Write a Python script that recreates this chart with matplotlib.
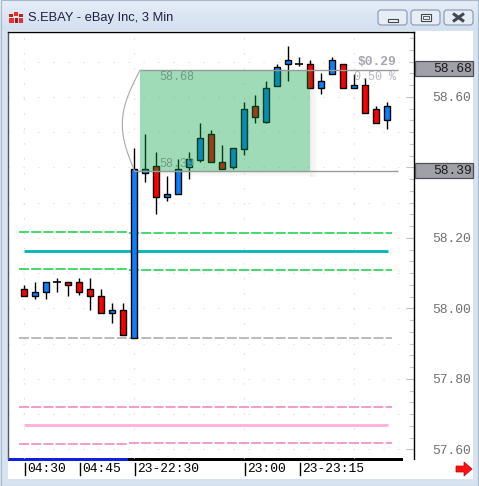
import matplotlib
matplotlib.use("Agg")
import matplotlib.pyplot as plt
from matplotlib.patches import Rectangle, Polygon, FancyBboxPatch
from matplotlib.ticker import FixedLocator, MultipleLocator
import matplotlib.transforms as mtransforms
import numpy as np

plt.rcParams['lines.scale_dashes'] = False

W, H = 479, 486

# ---------------- data ----------------
title = "S.EBAY - eBay Inc, 3 Min"
opens  = [58.055, 58.035, 58.047, 58.075, 58.075, 58.075, 58.055, 58.035, 57.987, 57.996,
          57.916, 58.384, 58.404, 58.316, 58.325, 58.401, 58.421, 58.495, 58.416, 58.401,
          58.452, 58.574, 58.529, 58.631, 58.694, 58.694, 58.694, 58.626, 58.665, 58.694,
          58.626, 58.634, 58.566, 58.535]
highs  = [58.067, 58.075, 58.075, 58.087, 58.075, 58.087, 58.087, 58.055, 58.016, 58.016,
          58.455, 58.495, 58.444, 58.376, 58.424, 58.444, 58.526, 58.506, 58.464, 58.455,
          58.586, 58.606, 58.645, 58.694, 58.745, 58.713, 58.705, 58.668, 58.713, 58.694,
          58.665, 58.654, 58.574, 58.586]
lows   = [58.035, 58.027, 58.027, 58.047, 58.035, 58.038, 57.996, 57.987, 57.959, 57.925,
          57.916, 58.359, 58.268, 58.305, 58.325, 58.367, 58.416, 58.416, 58.396, 58.396,
          58.435, 58.526, 58.526, 58.631, 58.645, 58.688, 58.626, 58.609, 58.665, 58.626,
          58.626, 58.555, 58.526, 58.509]
closes = [58.035, 58.047, 58.075, 58.075, 58.067, 58.047, 58.035, 57.987, 57.996, 57.925,
          58.396, 58.396, 58.316, 58.325, 58.396, 58.424, 58.484, 58.416, 58.396, 58.455,
          58.566, 58.543, 58.626, 58.685, 58.705, 58.694, 58.626, 58.645, 58.705, 58.626,
          58.634, 58.555, 58.526, 58.574]

time_tick_idx = [0, 5, 10, 20, 25]
time_tick_labels = ["04:30", "04:45", "23-22:30", "23:00", "23-23:15"]
price_ticks = [57.60, 57.80, 58.00, 58.20, 58.40, 58.60]
price_labels = ["57.60", "57.80", "58.00", "58.20", "58.40", "58.60"]

range_high = 58.68
range_low = 58.39
range_high_label = "58.68"
range_low_label = "58.39"
change_label = "$0.29"
pct_label = "0.50 %"

green_upper = [58.217, 58.214]
green_lower = [58.112, 58.109]
teal_level = 58.163
grey_level = 57.916
pink_upper = [57.721, 57.721]
pink_level = 57.670
pink_lower = [57.616, 57.618]

# ---------------- figure / chrome ----------------
fig = plt.figure(figsize=(W / 100, H / 100), dpi=100)
fig.patch.set_facecolor('#d7e3f1')

bg = fig.add_axes([0, 0, 1, 1], zorder=0)
bg.set_xlim(0, W)
bg.set_ylim(H, 0)
bg.axis('off')

# title bar gradient
grad = np.linspace(0, 1, 30).reshape(-1, 1)
top_c = np.array([0.90, 0.93, 0.97])
bot_c = np.array([0.83, 0.88, 0.94])
img = top_c + (bot_c - top_c) * grad
bg.imshow(np.repeat(img[:, None, :], 2, axis=1).reshape(30, 2, 3),
          extent=(0, W, 30, 0), aspect='auto', zorder=0)
bg.add_patch(Rectangle((0, 30), W, H - 30, fc='#d7e3f1', ec='none', zorder=0))
bg.add_patch(Rectangle((0.5, 0.5), W - 1, H - 1, fc='none', ec='#a9b9cc', lw=0.8, zorder=1))
# white canvas
bg.add_patch(Rectangle((8, 31), 465, 448, fc='white', ec='none', zorder=1))

# icon
for (x, y, w, h, c) in [(9, 14, 4, 3, '#c81e1e'), (14, 12, 4, 4, '#e83030'),
                        (19, 14, 4, 3, '#c81e1e'), (9, 18, 5, 5, '#e83030'),
                        (15, 18, 3, 5, '#b01818'), (19, 18, 4, 5, '#e83030')]:
    bg.add_patch(Rectangle((x, y), w, h, fc=c, ec='none', zorder=2))
bg.text(28, 17.5, title, fontsize=9.3, family=['Liberation Sans', 'DejaVu Sans'],
        color='#1e2040', va='center', ha='left', zorder=3)

# window buttons
for bx in [378, 411, 444]:
    bg.add_patch(FancyBboxPatch((bx, 10), 29, 15, boxstyle='round,pad=0,rounding_size=3',
                                fc='#e6edf5', ec='#8596ab', lw=0.8, zorder=2))
bg.add_patch(Rectangle((388, 19), 10, 3, fc='#f4f4f4', ec='#404850', lw=0.8, zorder=3))
bg.add_patch(Rectangle((421, 14), 10, 7, fc='#f4f4f4', ec='#404850', lw=0.8, zorder=3))
bg.add_patch(Rectangle((423, 16), 6, 3, fc='#e6edf5', ec='#404850', lw=0.6, zorder=4))
bg.plot([453, 464], [13.5, 21.5], color='#404850', lw=2.2, zorder=3, solid_capstyle='butt')
bg.plot([453, 464], [21.5, 13.5], color='#404850', lw=2.2, zorder=3, solid_capstyle='butt')

# bottom bar (black with blue segment)
bg.add_patch(Rectangle((8, 458), 395, 3, fc='black', ec='none', zorder=2))
bg.add_patch(Rectangle((8, 458), 120, 3, fc='#1020e0', ec='none', zorder=3))

# red arrow
bg.add_patch(Polygon([(456, 466), (464, 466), (464, 462), (472, 469), (464, 476),
                      (464, 472), (456, 472)], closed=True, fc='#ff1010', ec='#c00000',
                     lw=0.5, zorder=3))

# ---------------- main axes ----------------
ax = fig.add_axes([8 / W, 1 - 459 / H, (414 - 8) / W, (459 - 32) / H], zorder=2)
ax.patch.set_alpha(0)
ax.set_xlim(-16 / 11, 390 / 11)
ax.set_ylim(57.573, 58.784)
for s in ['top', 'right']:
    ax.spines[s].set_color('black')
    ax.spines[s].set_linewidth(1.0)
ax.spines['left'].set_color('#505860')
ax.spines['left'].set_linewidth(1.0)
ax.spines['bottom'].set_visible(False)
ax.set_xticks([])

ax.yaxis.tick_right()
ax.yaxis.set_major_locator(FixedLocator(price_ticks))
ax.set_yticklabels(price_labels)
ax.yaxis.set_minor_locator(MultipleLocator(0.2 / 6))
ax.tick_params(axis='y', which='major', direction='in', length=6, width=0.8,
               color='#c0c0c0', labelsize=9.4, labelcolor='#707070', pad=13)
ax.tick_params(axis='y', which='minor', direction='in', length=3.5, width=0.8,
               color='#c8c8c8')
for lab in ax.get_yticklabels():
    lab.set_fontfamily(['Liberation Mono', 'DejaVu Sans Mono'])

# faint dotted grid
for gx in [0, 10, 20, 30]:
    ax.axvline(gx, color='#d4d4d4', lw=0.8, ls=(0, (0.8, 10)), zorder=0)
for gy in np.arange(57.6, 58.8, 0.1):
    ax.axhline(gy, color='#dcdcdc', lw=0.8, ls=(0, (0.8, 10)), zorder=0)

# horizontal levels
segL = (-0.45, 9.45)
segR = (9.55, 33.45)
dash = (0, (7.2, 1.6))
for lv, col in [(green_upper, '#10d040'), (green_lower, '#10d040'),
                (pink_upper, '#f080c0'), (pink_lower, '#f080c0')]:
    ax.hlines(lv[0], *segL, color=col, lw=1.1, linestyles=[dash], zorder=1)
    ax.hlines(lv[1], *segR, color=col, lw=1.1, linestyles=[dash], zorder=1)
ax.hlines(grey_level, segL[0], segR[1], color='#a8a8a8', lw=1.1, linestyles=[dash], zorder=1)
ax.hlines(teal_level, 0, 33.1, color='#00b4b4', lw=2.0, zorder=1)
ax.hlines(pink_level, 0, 33.1, color='#ffafd7', lw=2.0, zorder=1)

# candles
bw = 0.5
for i, (o, h, l, c) in enumerate(zip(opens, highs, lows, closes)):
    ax.vlines(i, l, h, color='black', lw=1.0, zorder=2)
    if abs(c - o) < 1e-9:
        ax.hlines(o, i - 0.32, i + 0.32, color='black', lw=1.2, zorder=2.5)
    else:
        col = '#0a80ff' if c > o else '#ff0000'
        ax.bar(i, abs(c - o), bottom=min(o, c), width=bw, color=col,
               edgecolor='black', linewidth=1.0, zorder=2.5)

# range box (semi-transparent green) with shadow
rx0, rx1 = 10.55, 26.0
dx, dy = 1 / 11, 1 / 352.5
for k in range(8):
    a = 0.10 * (1 - k / 8)
    ax.add_patch(Rectangle((rx1 + k * dx, range_low - 6 * dy),
                           dx, (range_high - range_low) - 2 * dy,
                           fc='#606060', ec='none', alpha=a, zorder=3))
for k in range(5):
    a = 0.10 * (1 - k / 5)
    ax.add_patch(Rectangle((rx0 + 0.5, range_low - (k + 1) * dy),
                           rx1 - rx0 - 0.5, dy, fc='#606060', ec='none', alpha=a, zorder=3))
ax.add_patch(Rectangle((rx0, range_low), rx1 - rx0, range_high - range_low - 2 * dy,
                       fc=(0.0, 0.63, 0.25), ec='none', alpha=0.38, zorder=3.2))
ax.hlines(range_high - 1.5 * dy, rx0, 34.0, color='#999999', lw=1.0, zorder=3.5)
ax.hlines(range_low, 10.0, 34.0, color='#999999', lw=1.0, zorder=3.5)
t = np.linspace(0, 1, 60)
arc_x = rx0 + (10.05 - rx0) * t - 1.35 * np.sin(np.pi * t)
arc_y = (range_high - 1.5 * dy) + (range_low - range_high + 1.5 * dy) * t
ax.plot(arc_x, arc_y, color='#a8a8a8', lw=0.8, zorder=3.5)

mono = ['Liberation Mono', 'DejaVu Sans Mono']
ax.text(rx0 + 19 * dx, range_high - 8 * dy, range_high_label, fontsize=8.5, family=mono,
        color='#6f9c82', va='center', ha='left', zorder=4)
ax.text(rx0 + 19 * dx, range_low + 7 * dy, range_low_label, fontsize=8.5, family=mono,
        color='#6f9c82', va='center', ha='left', zorder=4)
ax.text(33.85, range_high + 7 * dy, change_label, fontsize=9.4, family=mono,
        fontweight='bold', color='#a6a6ae', va='center', ha='right', zorder=4)
ax.text(33.85, range_high - 8 * dy, pct_label, fontsize=8.4, family=mono,
        color='#b4b4c4', va='center', ha='right', zorder=4)

# time axis labels
trans = mtransforms.blended_transform_factory(ax.transData, bg.transData)
for idx, lab in zip(time_tick_idx, time_tick_labels):
    bg.plot([idx + 1 / 11, idx + 1 / 11], [462.5, 475], color='black', lw=1.0,
            transform=trans, zorder=3)
    bg.text(idx + 3 / 11, 469, lab, fontsize=9.4, family=mono, color='black',
            va='center', ha='left', transform=trans, zorder=3)

# right-axis value boxes
fg = fig.add_axes([0, 0, 1, 1], zorder=5)
fg.patch.set_alpha(0)
fg.axis('off')
fg.set_xlim(0, W)
fg.set_ylim(H, 0)
btrans = mtransforms.blended_transform_factory(fg.transData, ax.transData)
for val, lab in [(range_high, range_high_label), (range_low, range_low_label)]:
    fg.add_patch(Rectangle((415, val - 7.5 * dy), 58, 15 * dy, fc='#a0a0a8', ec='#505058',
                           lw=0.9, transform=btrans, zorder=5))
    fg.text(471.5, val, lab, fontsize=9.4, family=mono, color='#1a1a1a', va='center',
            ha='right', transform=btrans, zorder=6)

fig.savefig('out.png', dpi=100, facecolor=fig.get_facecolor())
